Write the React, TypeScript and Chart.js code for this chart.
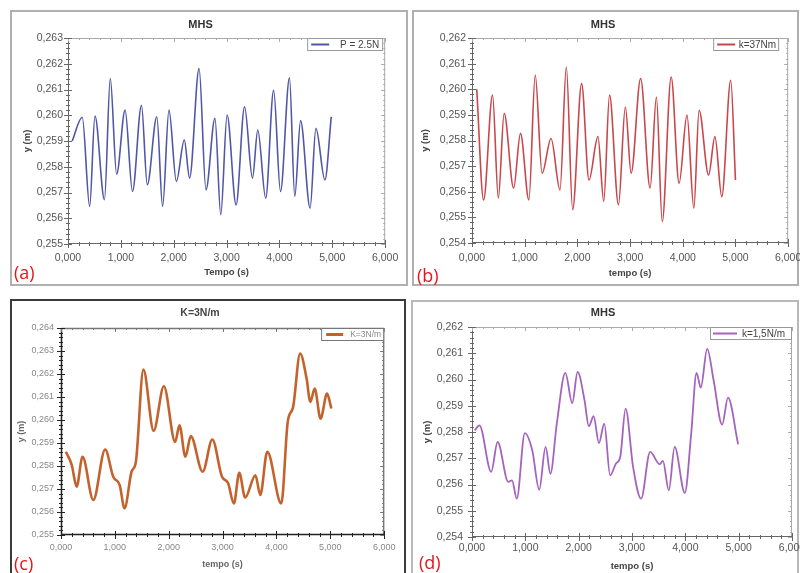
import React, { useEffect, useRef } from 'react';
import { Chart, registerables } from 'chart.js';

Chart.register(...registerables);
Chart.defaults.font.family = "'Liberation Sans', Arial, sans-serif";

// ---------- data ----------
const xTickLabels = ['0,000', '1,000', '2,000', '3,000', '4,000', '5,000', '6,000'];

// (a) P = 2.5N
const aTime = [0.08, 0.27, 0.41, 0.51, 0.69, 0.80, 0.92, 1.08, 1.22, 1.39, 1.50, 1.68, 1.79, 1.91, 2.05, 2.20, 2.30, 2.48, 2.61, 2.78, 2.89, 3.01, 3.18, 3.34, 3.49, 3.59, 3.74, 3.89, 4.02, 4.19, 4.29, 4.40, 4.58, 4.69, 4.86, 4.98];
const aY = [0.2590, 0.25992, 0.25646, 0.25997, 0.25672, 0.26143, 0.25771, 0.26020, 0.25704, 0.26039, 0.25730, 0.25994, 0.25646, 0.26020, 0.25743, 0.25904, 0.25756, 0.26181, 0.25710, 0.25988, 0.25614, 0.26001, 0.25652, 0.26033, 0.25756, 0.25943, 0.25678, 0.26097, 0.25704, 0.26145, 0.25685, 0.25979, 0.25639, 0.25949, 0.25749, 0.25994];

// (b) k=37Nm
const bTime = [0.09, 0.22, 0.39, 0.50, 0.61, 0.79, 0.92, 1.08, 1.20, 1.33, 1.50, 1.67, 1.79, 1.91, 2.08, 2.22, 2.39, 2.50, 2.61, 2.78, 2.91, 3.02, 3.20, 3.38, 3.50, 3.61, 3.78, 3.93, 4.08, 4.21, 4.31, 4.49, 4.61, 4.74, 4.91, 5.00];
const bY = [0.2600, 0.25568, 0.25977, 0.25575, 0.25906, 0.25614, 0.25828, 0.25568, 0.26055, 0.25672, 0.25808, 0.25607, 0.26087, 0.25530, 0.26022, 0.25646, 0.25815, 0.25562, 0.25977, 0.25549, 0.25931, 0.25672, 0.26042, 0.25614, 0.25970, 0.25484, 0.26048, 0.25633, 0.25899, 0.25536, 0.25918, 0.25665, 0.25815, 0.25581, 0.26035, 0.25646];

// (c) K=3N/m
const cTime = [0.09, 0.20, 0.29, 0.40, 0.60, 0.82, 0.97, 1.09, 1.18, 1.31, 1.39, 1.53, 1.72, 1.91, 2.12, 2.20, 2.31, 2.41, 2.63, 2.81, 2.99, 3.10, 3.21, 3.31, 3.42, 3.61, 3.70, 3.83, 4.09, 4.21, 4.31, 4.44, 4.56, 4.63, 4.71, 4.82, 4.94, 5.02];
const cY = [0.25862, 0.25804, 0.25710, 0.25840, 0.25652, 0.25872, 0.25753, 0.25717, 0.25616, 0.25775, 0.25818, 0.26219, 0.25953, 0.26147, 0.25905, 0.25977, 0.25840, 0.25930, 0.25775, 0.25915, 0.25753, 0.25727, 0.25637, 0.25770, 0.25663, 0.25760, 0.25674, 0.25862, 0.25637, 0.25992, 0.26057, 0.26289, 0.26180, 0.26079, 0.26137, 0.26006, 0.26115, 0.26050];

// (d) k=1,5N/m
const dTime = [0.05, 0.14, 0.36, 0.48, 0.68, 0.75, 0.84, 0.99, 1.13, 1.26, 1.38, 1.47, 1.59, 1.75, 1.88, 1.98, 2.11, 2.19, 2.28, 2.38, 2.48, 2.59, 2.70, 2.78, 2.88, 3.02, 3.17, 3.34, 3.52, 3.58, 3.69, 3.80, 3.99, 4.11, 4.21, 4.29, 4.41, 4.53, 4.69, 4.80, 4.99];
const dY = [0.25806, 0.25825, 0.25648, 0.25762, 0.25610, 0.25616, 0.25546, 0.25796, 0.25730, 0.25580, 0.25743, 0.25641, 0.25832, 0.26025, 0.25910, 0.26029, 0.25921, 0.25822, 0.25860, 0.25758, 0.25832, 0.25635, 0.25680, 0.25705, 0.25889, 0.25667, 0.25546, 0.25724, 0.25677, 0.25690, 0.25578, 0.25743, 0.25568, 0.25794, 0.26025, 0.25969, 0.26117, 0.25997, 0.25828, 0.25931, 0.25753];

const fmt3 = (v: number) => v.toFixed(3).replace('.', ',');

// ---------- plugins ----------
const frameTicksPlugin = {
  id: 'frameTicks',
  afterDatasetsDraw(chart: any, _a: any, o: any) {
    const { ctx, chartArea } = chart;
    const { left, right, top, bottom } = chartArea;
    const xs = chart.scales.x;
    const ys = chart.scales.y;
    const seg = (x1: number, y1: number, x2: number, y2: number) => {
      ctx.beginPath();
      ctx.moveTo(x1, y1);
      ctx.lineTo(x2, y2);
      ctx.stroke();
    };
    ctx.save();
    ctx.lineWidth = o.lineWidth;
    ctx.strokeStyle = o.edgeColor;
    seg(left, top + 0.5, right, top + 0.5);
    seg(right - 0.5, top, right - 0.5, bottom);
    ctx.strokeStyle = o.axisColor;
    seg(left + 0.5, top, left + 0.5, bottom);
    seg(left, bottom - 0.5, right, bottom - 0.5);
    ctx.lineWidth = 1;
    const nX = Math.round((xs.max - xs.min) / o.xMinor);
    for (let i = 0; i <= nX; i++) {
      const px = Math.round(xs.getPixelForValue(xs.min + i * o.xMinor)) + 0.5;
      const len = i % o.xPer === 0 ? o.majorLen : o.minorLen;
      ctx.strokeStyle = o.axisColor;
      seg(px, bottom - len, px, bottom + len);
      ctx.strokeStyle = o.edgeColor;
      seg(px, top, px, top + len);
    }
    const nY = Math.round((ys.max - ys.min) / o.yMinor);
    for (let i = 0; i <= nY; i++) {
      const py = Math.round(ys.getPixelForValue(ys.min + i * o.yMinor)) + 0.5;
      const len = i % o.yPer === 0 ? o.majorLen : o.minorLen;
      ctx.strokeStyle = o.axisColor;
      seg(left - len, py, left + len, py);
      ctx.strokeStyle = o.edgeColor;
      seg(right - len, py, right, py);
    }
    ctx.restore();
  },
};

const boxLegendPlugin = {
  id: 'boxLegend',
  afterDatasetsDraw(chart: any, _a: any, o: any) {
    const { ctx, chartArea } = chart;
    const x1 = chartArea.right - o.right;
    const x0 = x1 - o.width;
    const y0 = chartArea.top + o.top;
    const h = o.height;
    ctx.save();
    ctx.fillStyle = '#ffffff';
    ctx.fillRect(x0, y0, o.width, h);
    ctx.strokeStyle = o.borderColor;
    ctx.lineWidth = 1;
    ctx.strokeRect(x0 + 0.5, y0 + 0.5, o.width - 1, h - 1);
    ctx.strokeStyle = o.color;
    ctx.lineWidth = o.lineWidth;
    ctx.beginPath();
    ctx.moveTo(x0 + o.lineStart, y0 + h / 2);
    ctx.lineTo(x0 + o.lineStart + o.lineLen, y0 + h / 2);
    ctx.stroke();
    ctx.fillStyle = o.textColor;
    ctx.font = o.font;
    ctx.textAlign = 'right';
    ctx.textBaseline = 'middle';
    ctx.fillText(o.text, x1 - o.textPad, y0 + h / 2 + 0.5);
    ctx.restore();
  },
};

// ---------- panels ----------
type Rect = { x: number; y: number; w: number; h: number };
type PanelCfg = {
  key: string;
  time: number[];
  values: number[];
  yMin: number;
  yMax: number;
  title: string;
  xTitle: string;
  yTitle: string;
  legend: string;
  color: string;
  lineWidth: number;
  frame: Rect & { color: string };
  canvas: Rect;
  plot: { l: number; t: number; r: number; b: number };
  titleY: number;
  yTitleX: number;
  xTitleY: number;
  xLabelY: number;
  yLabelPad: number;
  tickSize: number;
  tickColor: string;
  titleSize: number;
  titleColor: string;
  axisTitleSize: number;
  axisTitleColor: string;
  axisColor: string;
  edgeColor: string;
  axisWidth: number;
  legendBox: { width: number; height: number; right: number; lineStart: number; lineLen: number; textPad: number; lineWidth: number; font: string; textColor: string; borderColor: string };
  label: string;
  labelPos: { x: number; y: number };
};

const panels: PanelCfg[] = [
  {
    key: 'a', time: aTime, values: aY, yMin: 0.255, yMax: 0.263,
    title: 'MHS', xTitle: 'Tempo (s)', yTitle: 'y (m)', legend: 'P = 2.5N',
    color: '#5157a8', lineWidth: 1.6,
    frame: { x: 10, y: 10, w: 398, h: 276, color: '#b0b0b0' },
    canvas: { x: 12, y: 12, w: 394, h: 273 },
    plot: { l: 68, t: 38, r: 389, b: 244 },
    titleY: 25, yTitleX: 27, xTitleY: 272, xLabelY: 258, yLabelPad: 5,
    tickSize: 10.5, tickColor: '#555', titleSize: 11, titleColor: '#333',
    axisTitleSize: 9.5, axisTitleColor: '#444',
    axisColor: '#666', edgeColor: '#aaa', axisWidth: 1,
    legendBox: { width: 76, height: 13, right: 2, lineStart: 4, lineLen: 18, textPad: 4, lineWidth: 2, font: "10px 'Liberation Sans', Arial", textColor: '#444', borderColor: '#999' },
    label: '(a)', labelPos: { x: 14, y: 262 },
  },
  {
    key: 'b', time: bTime, values: bY, yMin: 0.254, yMax: 0.262,
    title: 'MHS', xTitle: 'tempo (s)', yTitle: 'y (m)', legend: 'k=37Nm',
    color: '#c9474c', lineWidth: 1.6,
    frame: { x: 412, y: 10, w: 387, h: 276, color: '#b0b0b0' },
    canvas: { x: 414, y: 12, w: 396, h: 273 },
    plot: { l: 472, t: 38, r: 792, b: 243 },
    titleY: 25, yTitleX: 425, xTitleY: 273, xLabelY: 258, yLabelPad: 6,
    tickSize: 10.5, tickColor: '#555', titleSize: 11, titleColor: '#333',
    axisTitleSize: 9.5, axisTitleColor: '#444',
    axisColor: '#666', edgeColor: '#aaa', axisWidth: 1,
    legendBox: { width: 66, height: 13, right: 9, lineStart: 4, lineLen: 18, textPad: 3, lineWidth: 2, font: "10px 'Liberation Sans', Arial", textColor: '#444', borderColor: '#999' },
    label: '(b)', labelPos: { x: 417, y: 265 },
  },
  {
    key: 'c', time: cTime, values: cY, yMin: 0.255, yMax: 0.264,
    title: 'K=3N/m', xTitle: 'tempo (s)', yTitle: 'y (m)', legend: 'K=3N/m',
    color: '#c4622d', lineWidth: 2.6,
    frame: { x: 10, y: 299, w: 396, h: 290, color: '#3a3a3a' },
    canvas: { x: 13, y: 302, w: 390, h: 271 },
    plot: { l: 61, t: 328, r: 387, b: 535 },
    titleY: 313, yTitleX: 22, xTitleY: 565, xLabelY: 548, yLabelPad: 7,
    tickSize: 9, tickColor: '#888', titleSize: 10.5, titleColor: '#444',
    axisTitleSize: 9, axisTitleColor: '#666',
    axisColor: '#222', edgeColor: '#777', axisWidth: 1.5,
    legendBox: { width: 63, height: 13, right: 0, lineStart: 5, lineLen: 17, textPad: 3, lineWidth: 3, font: "8.5px 'Liberation Sans', Arial", textColor: '#888', borderColor: '#777' },
    label: '(c)', labelPos: { x: 14, y: 553 },
  },
  {
    key: 'd', time: dTime, values: dY, yMin: 0.254, yMax: 0.262,
    title: 'MHS', xTitle: 'tempo (s)', yTitle: 'y (m)', legend: 'k=1,5N/m',
    color: '#a463bd', lineWidth: 1.8,
    frame: { x: 411, y: 300, w: 388, h: 290, color: '#b8b8b8' },
    canvas: { x: 414, y: 303, w: 396, h: 270 },
    plot: { l: 472, t: 327, r: 792, b: 537 },
    titleY: 313, yTitleX: 427, xTitleY: 566, xLabelY: 548, yLabelPad: 9,
    tickSize: 10.5, tickColor: '#555', titleSize: 11, titleColor: '#333',
    axisTitleSize: 9.5, axisTitleColor: '#444',
    axisColor: '#666', edgeColor: '#aaa', axisWidth: 1,
    legendBox: { width: 82, height: 13, right: 0, lineStart: 3, lineLen: 24, textPad: 7, lineWidth: 2, font: "10px 'Liberation Sans', Arial", textColor: '#444', borderColor: '#999' },
    label: '(d)', labelPos: { x: 419, y: 552 },
  },
];

function buildConfig(p: PanelCfg): any {
  const { canvas: c, plot } = p;
  const yAxisW = plot.l - c.x;
  const xAxisH = c.y + c.h - plot.b;
  const padRight = c.x + c.w - plot.r;
  const titleLH = p.titleSize * 1.2;
  const titleRel = p.titleY - c.y;
  const titlePadTop = titleRel - titleLH / 2;
  const titlePadBottom = plot.t - c.y - titleRel - titleLH / 2;
  const axLH = p.axisTitleSize * 1.2;
  const tickLH = p.tickSize * 1.2;
  return {
    type: 'line',
    data: {
      datasets: [
        {
          label: p.legend,
          data: p.time.map((t, i) => ({ x: t, y: p.values[i] })),
          borderColor: p.color,
          borderWidth: p.lineWidth,
          pointRadius: 0,
          fill: false,
          cubicInterpolationMode: 'monotone',
        },
      ],
    },
    options: {
      responsive: false,
      animation: false,
      layout: { padding: { top: 0, left: 0, bottom: 0, right: padRight } },
      scales: {
        x: {
          type: 'linear',
          min: 0,
          max: 6,
          grid: { display: false, drawTicks: false, tickLength: 0 },
          border: { display: false },
          ticks: {
            stepSize: 1,
            maxRotation: 0,
            autoSkip: false,
            padding: p.xLabelY - plot.b - tickLH / 2,
            color: p.tickColor,
            font: { size: p.tickSize },
            callback: (_v: any, i: number) => xTickLabels[i],
          },
          title: {
            display: true,
            text: p.xTitle,
            color: p.axisTitleColor,
            font: { size: p.axisTitleSize, weight: 'bold' },
            padding: { top: 0, bottom: c.y + c.h - p.xTitleY - axLH / 2 },
          },
          afterFit: (s: any) => {
            s.height = xAxisH;
          },
        },
        y: {
          type: 'linear',
          min: p.yMin,
          max: p.yMax,
          grid: { display: false, drawTicks: false, tickLength: 0 },
          border: { display: false },
          ticks: {
            stepSize: 0.001,
            autoSkip: false,
            padding: p.yLabelPad,
            color: p.tickColor,
            font: { size: p.tickSize },
            callback: (v: any) => fmt3(Number(v)),
          },
          title: {
            display: true,
            text: p.yTitle,
            color: p.axisTitleColor,
            font: { size: p.axisTitleSize, weight: 'bold' },
            padding: { top: p.yTitleX - c.x - axLH / 2, bottom: 0 },
          },
          afterFit: (s: any) => {
            s.width = yAxisW;
          },
        },
      },
      plugins: {
        legend: { display: false },
        tooltip: { enabled: false },
        title: {
          display: true,
          text: p.title,
          color: p.titleColor,
          font: { size: p.titleSize, weight: 'bold' },
          padding: { top: titlePadTop, bottom: titlePadBottom },
        },
        frameTicks: {
          axisColor: p.axisColor,
          edgeColor: p.edgeColor,
          lineWidth: p.axisWidth,
          xMinor: 0.2,
          xPer: 5,
          yMinor: 0.0002,
          yPer: 5,
          majorLen: 4,
          minorLen: 2,
        },
        boxLegend: {
          ...p.legendBox,
          top: 0,
          text: p.legend,
          color: p.color,
        },
      },
    },
    plugins: [frameTicksPlugin, boxLegendPlugin],
  };
}

function Panel({ p }: { p: PanelCfg }) {
  const ref = useRef<HTMLCanvasElement>(null);
  useEffect(() => {
    const chart = new Chart(ref.current as HTMLCanvasElement, buildConfig(p));
    return () => chart.destroy();
  }, [p]);
  return (
    <>
      <div
        style={{
          position: 'absolute',
          left: p.frame.x,
          top: p.frame.y,
          width: p.frame.w,
          height: p.frame.h,
          boxSizing: 'border-box',
          border: `2px solid ${p.frame.color}`,
        }}
      />
      <canvas
        ref={ref}
        width={p.canvas.w}
        height={p.canvas.h}
        style={{ position: 'absolute', left: p.canvas.x, top: p.canvas.y, width: p.canvas.w, height: p.canvas.h }}
      />
      <div
        style={{
          position: 'absolute',
          left: p.labelPos.x,
          top: p.labelPos.y,
          color: '#e8141b',
          fontFamily: "'Open Sans', 'Noto Sans', sans-serif",
          fontSize: 18,
          lineHeight: '20px',
          whiteSpace: 'nowrap',
        }}
      >
        {p.label}
      </div>
    </>
  );
}

export default function App() {
  return (
    <div
      style={{
        position: 'fixed',
        left: 0,
        top: 0,
        width: 800,
        height: 573,
        overflow: 'hidden',
        background: '#ffffff',
      }}
    >
      {panels.map((p) => (
        <Panel key={p.key} p={p} />
      ))}
    </div>
  );
}
